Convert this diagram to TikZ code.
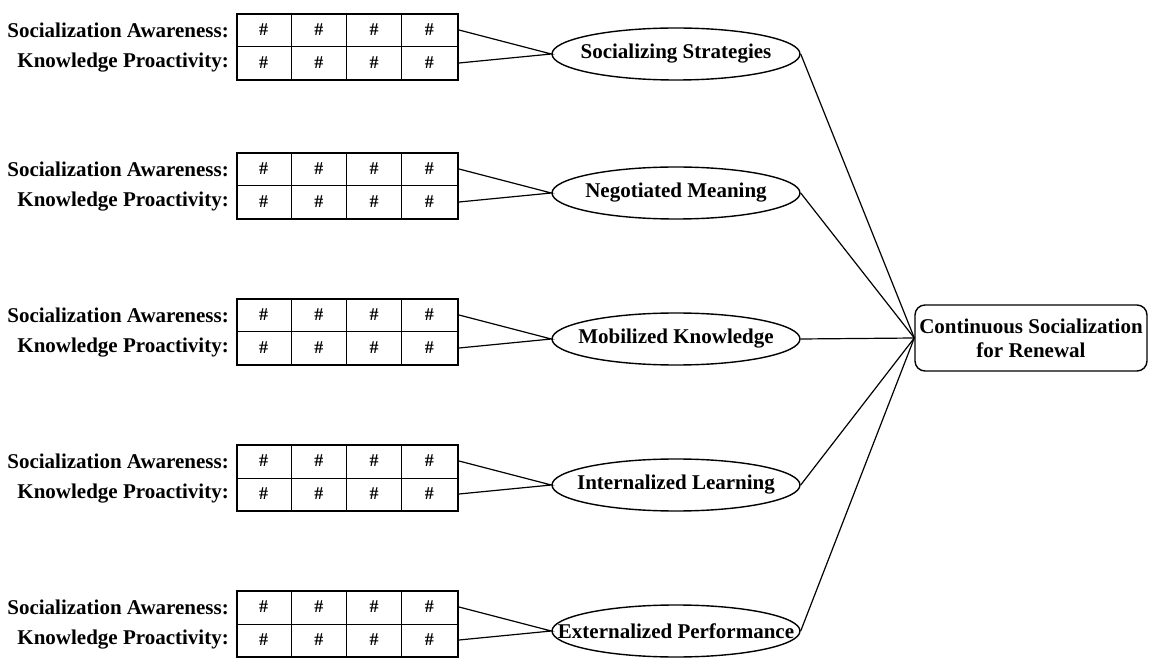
\documentclass[tikz,border=0pt]{standalone}
\usepackage{fontspec}
\setmainfont{Liberation Serif}
\usetikzlibrary{shapes.geometric}
\begin{document}
\begin{tikzpicture}[x=1pt,y=-1pt,
  every node/.style={font=\fontsize{21}{24}\selectfont\bfseries},
  lbl/.style={anchor=east, inner sep=0pt},
  gridbox/.style={draw, line width=2pt, minimum width=221pt, minimum height=66pt, inner sep=0pt, anchor=north west},
  cellline/.style={line width=1pt},
  hash/.style={inner sep=0pt, font=\fontsize{18}{20}\selectfont\bfseries},
  construct/.style={draw, ellipse, line width=1.4pt, minimum width=248pt, minimum height=52pt, inner sep=0pt},
  link/.style={line width=1.2pt},
  outcome/.style={draw, rounded corners=10pt, line width=1.4pt, minimum width=232pt, minimum height=66pt, align=center, inner sep=0pt}]

\useasboundingbox (0,0) rectangle (1149,660);

% final outcome
\node[outcome] (out) at (1031,338) {Continuous Socialization\\for Renewal};

% one block per construct: rating grid, labels, ellipse and links
\foreach \i/\T/\name in {1/13/Socializing Strategies,
                         2/152/Negotiated Meaning,
                         3/298/Mobilized Knowledge,
                         4/444/Internalized Learning,
                         5/590/Externalized Performance}{
  \node[lbl] (sa\i) at (229,\T+17) {Socialization Awareness:};
  \node[lbl] (kp\i) at (229,\T+50) {Knowledge Proactivity:};
  \node[gridbox] (g\i) at (236,\T) {};
  \draw[cellline] (g\i.west) -- (g\i.east);
  \foreach \k in {1,2,3}{
    \draw[cellline] (236+55.25*\k,\T) -- (236+55.25*\k,\T+66);
  }
  \foreach \k in {0,1,2,3}{
    \node[hash] (ha\i\k) at (263.6+55.25*\k,\T+17) {\#};
    \node[hash] (hb\i\k) at (263.6+55.25*\k,\T+50) {\#};
  }
  % fixed-size ellipse: the label is centred in a zero-width box
  \node[construct] (c\i) at (676,\T+41) {\makebox[0pt]{\name}};
  \draw[link] (g\i.east |- sa\i) -- (c\i.west) -- (g\i.east |- kp\i);
  \draw[link] (c\i.east) -- (out.west);
}
\end{tikzpicture}
\end{document}
